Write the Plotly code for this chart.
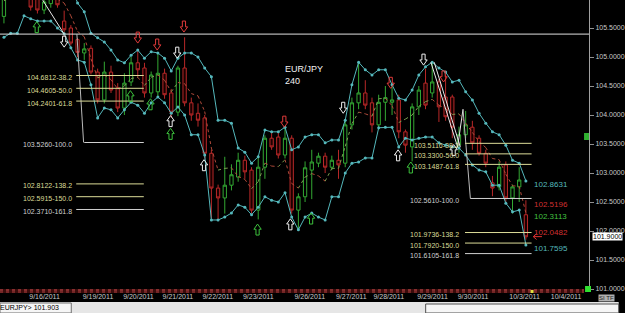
import plotly.graph_objects as go

# ---------------- data ----------------
opens = [105.70, 106.10, 106.30, 106.15, 106.10, 106.00, 105.81, 105.92, 106.05, 105.62,
         105.50, 105.30, 105.07, 105.15, 104.74, 104.26, 104.74, 104.47, 104.12, 104.57,
         104.90, 104.81, 104.38, 104.40, 104.72, 104.38, 104.05, 104.81, 104.21, 104.03,
         103.95, 103.34, 102.74, 102.57, 102.79, 102.93, 103.22, 103.05, 102.36, 103.10,
         103.60, 103.62, 103.31, 103.60, 102.36, 102.59, 103.05, 103.17, 103.29, 103.10,
         103.22, 103.17, 103.83, 104.21, 104.38, 104.21, 103.83, 104.22, 104.22, 104.26,
         103.71, 103.45, 104.14, 104.55, 104.38, 104.57, 104.31, 104.31, 103.48, 103.66,
         103.79, 103.60, 103.34, 102.83, 102.76, 103.14, 102.57, 102.76, 102.28]
highs = [106.30, 106.45, 106.40, 106.35, 106.22, 106.08, 106.05, 106.10, 106.12, 105.80,
         105.55, 105.33, 105.24, 105.20, 104.80, 104.92, 104.85, 104.55, 104.72, 105.00,
         105.12, 104.90, 104.75, 105.07, 104.80, 104.45, 104.85, 105.34, 104.30, 104.20,
         104.00, 103.40, 102.80, 103.28, 103.15, 103.35, 103.30, 103.10, 103.30, 103.65,
         103.70, 103.70, 103.80, 103.65, 102.65, 103.20, 103.40, 103.35, 103.35, 103.30,
         103.40, 103.90, 104.30, 104.90, 104.60, 104.30, 104.35, 104.50, 104.55, 104.35,
         103.75, 104.20, 104.50, 104.80, 104.93, 104.62, 104.70, 104.35, 103.80, 104.07,
         103.90, 103.65, 103.40, 102.95, 103.20, 103.20, 102.80, 103.10, 102.53]
lows = [105.58, 106.02, 106.05, 106.00, 105.80, 105.75, 105.74, 105.85, 105.85, 105.35,
        105.20, 105.00, 104.95, 104.70, 104.20, 104.20, 104.38, 104.05, 104.00, 104.50,
        104.65, 104.30, 104.30, 104.30, 104.28, 103.95, 103.98, 104.15, 103.90, 103.80,
        103.25, 102.22, 102.20, 102.30, 102.70, 102.85, 102.90, 102.30, 102.20, 102.90,
        103.40, 103.25, 103.25, 102.30, 102.03, 102.50, 102.55, 103.10, 103.00, 103.05,
        102.90, 103.10, 103.75, 104.10, 104.10, 103.70, 103.75, 103.90, 104.00, 103.60,
        103.35, 103.20, 104.00, 104.10, 104.30, 103.88, 103.90, 103.60, 103.35, 103.60,
        103.40, 103.30, 103.10, 102.60, 102.70, 102.50, 102.30, 102.50, 101.85]
closes = [106.10, 106.30, 106.15, 106.20, 105.86, 105.81, 105.95, 106.05, 105.90, 105.47,
          105.24, 105.08, 105.14, 104.74, 104.26, 104.74, 104.43, 104.12, 104.55, 104.90,
          104.78, 104.38, 104.69, 104.72, 104.35, 104.05, 104.81, 104.21, 104.00, 103.91,
          103.34, 102.74, 102.57, 102.79, 102.97, 103.22, 103.02, 102.36, 103.10, 103.60,
          103.45, 103.31, 103.60, 102.36, 102.59, 103.09, 103.19, 103.29, 103.10, 103.22,
          103.14, 103.83, 104.21, 104.38, 104.17, 103.83, 104.22, 104.30, 104.26, 103.71,
          103.48, 104.14, 104.43, 104.17, 104.57, 104.14, 103.97, 103.79, 103.66, 103.83,
          103.52, 103.34, 103.17, 102.74, 103.10, 102.57, 102.76, 102.88, 101.90]

upper_band = [106.60, 106.65, 106.65, 106.62, 106.60, 106.58, 106.55, 106.55, 106.50, 106.45,
              106.25, 105.93, 105.78, 105.41, 105.33, 105.26, 105.12, 104.95, 104.90, 105.03,
              105.12, 104.98, 105.09, 105.07, 104.98, 104.76, 104.98, 105.07, 105.07, 105.00,
              104.81, 104.66, 103.91, 103.91, 103.86, 103.43, 103.36, 103.17, 103.28, 103.74,
              103.71, 103.71, 103.79, 103.40, 103.45, 103.62, 103.66, 103.66, 103.52, 103.57,
              103.57, 103.91, 104.52, 104.91, 104.78, 104.69, 104.78, 104.78, 104.52, 104.29,
              104.26, 104.43, 104.69, 104.83, 104.91, 104.81, 104.74, 104.57, 104.60, 104.40,
              104.26, 104.03, 103.86, 103.71, 103.66, 103.48, 103.22, 103.17, 102.8631]
lower_band = [105.34, 105.41, 105.41, 105.71, 105.66, 105.62, 105.62, 105.62, 105.50, 105.40,
              105.16, 104.95, 104.91, 104.52, 103.95, 104.12, 104.09, 103.95, 104.09, 104.22,
              104.17, 104.03, 104.21, 104.31, 104.21, 104.03, 104.14, 104.00, 103.66, 103.66,
              103.31, 102.19, 102.19, 102.24, 102.31, 102.45, 102.41, 102.28, 102.41, 102.59,
              102.53, 102.50, 102.66, 102.24, 102.02, 102.24, 102.31, 102.24, 102.19, 102.59,
              102.59, 103.00, 103.17, 103.19, 103.26, 103.26, 103.78, 103.79, 103.79, 103.45,
              103.60, 103.57, 103.60, 103.62, 103.62, 103.52, 103.48, 103.45, 103.43, 103.31,
              103.14, 103.05, 103.02, 102.79, 102.79, 102.48, 102.33, 102.36, 101.7595]
middle_band = [105.97, 106.03, 106.03, 106.17, 106.13, 106.10, 106.09, 106.09, 106.00, 105.93,
               105.71, 105.44, 105.35, 104.97, 104.64, 104.69, 104.61, 104.45, 104.50, 104.63,
               104.65, 104.51, 104.65, 104.69, 104.60, 104.40, 104.56, 104.54, 104.37, 104.33,
               104.06, 103.43, 103.05, 103.08, 103.09, 102.94, 102.89, 102.73, 102.85, 103.17,
               103.12, 103.11, 103.23, 102.82, 102.74, 102.93, 102.99, 102.95, 102.86, 103.08,
               103.08, 103.46, 103.85, 104.05, 104.02, 103.98, 104.28, 104.29, 104.16, 103.87,
               103.93, 104.00, 104.15, 104.23, 104.27, 104.17, 104.11, 104.01, 104.02, 103.86,
               103.70, 103.54, 103.44, 103.25, 103.23, 102.98, 102.78, 102.77, 102.3113]

date_labels = ["9/16/2011", "9/19/2011", "9/20/2011", "9/21/2011", "9/22/2011", "9/23/2011",
               "9/26/2011", "9/27/2011", "9/28/2011", "9/29/2011", "9/30/2011", "10/3/2011",
               "10/4/2011"]
date_bar_pos = [6.07, 14.05, 20.1, 26.0, 31.95, 38.0, 45.7, 51.9, 57.5, 64.05, 70.1, 77.8, 84.0]

price_ticks = [101.0, 101.5, 102.0, 102.5, 103.0, 103.5, 104.0, 104.5, 105.0, 105.5, 106.0]

fib_levels = ["38.2", "50.0", "61.8", "100.0", "138.2", "150.0", "161.8"]
fib_left_prices = [104.6812, 104.4605, 104.2401, 103.5260, 102.8122, 102.5915, 102.3710]
fib_right_prices = [103.5116, 103.3300, 103.1487, 102.5610, 101.9736, 101.7920, 101.6105]
swing_high_left = 105.395
swing_high_right = 104.099

end_label_values = [102.8631, 102.5196, 102.3113, 102.0482, 101.7595]
end_label_kinds = ["band", "red", "mid", "red", "band"]

signal_bar = [4.9, 9.0, 20.0, 22.9, 26.9, 25.9, 18.9, 21.9, 24.9, 24.9, 41.9, 29.9,
              37.9, 42.8, 45.9, 50.7, 57.8, 58.9, 60.8, 62.7, 65.7, 67.2]
signal_price = [105.52, 105.26, 105.33, 105.21, 105.52, 105.07, 104.33, 104.19, 103.90,
                103.68, 103.88, 103.14, 102.03, 102.12, 102.22, 104.12, 104.55, 103.31,
                103.10, 104.95, 104.66, 103.40]
signal_dir = ["up", "down", "down", "down", "down", "down", "up", "up", "up", "up", "down",
              "up", "up", "up", "up", "down", "down", "up", "up", "down", "down", "up"]
signal_kind = ["green", "white", "red", "red", "red", "white", "green", "green", "white",
               "green", "red", "white", "green", "white", "green", "white", "red", "white",
               "green", "white", "red", "white"]

last_price = 101.903
symbol = "EUR/JPY"
timeframe = "240"

# ---------------- styling ----------------
TEAL = "#55b8bc"
GREEN = "#33a833"
RED = "#b82828"
FIB_Y = "#dcdc98"
FIB_W = "#d0d0d0"
AX = "#c8c8c8"
FONT = "Liberation Sans"

xs = list(range(len(opens)))
fig = go.Figure()

fig.add_trace(go.Candlestick(
    x=xs, open=opens, high=highs, low=lows, close=closes,
    increasing=dict(line=dict(color=GREEN, width=1), fillcolor="#000000"),
    decreasing=dict(line=dict(color=RED, width=1), fillcolor="#1a0000"),
    whiskerwidth=0, showlegend=False, hoverinfo="skip"))

# middle band as dotted, coloured by direction
rx, ry, fx, fy = [], [], [], []
for i in range(len(middle_band) - 1):
    if middle_band[i + 1] >= middle_band[i]:
        rx += [xs[i], xs[i + 1], None]; ry += [middle_band[i], middle_band[i + 1], None]
    else:
        fx += [xs[i], xs[i + 1], None]; fy += [middle_band[i], middle_band[i + 1], None]
fig.add_trace(go.Scatter(x=rx, y=ry, mode="lines", line=dict(color="#7aa050", width=1, dash="dot"),
                         showlegend=False, hoverinfo="skip"))
fig.add_trace(go.Scatter(x=fx, y=fy, mode="lines", line=dict(color="#b04a3a", width=1, dash="dot"),
                         showlegend=False, hoverinfo="skip"))

for band in (upper_band, lower_band):
    fig.add_trace(go.Scatter(x=xs, y=band, mode="lines+markers",
                             line=dict(color=TEAL, width=1),
                             marker=dict(color=TEAL, size=3),
                             showlegend=False, hoverinfo="skip"))

shapes = []
ann = []

# horizontal swing-high line across chart
shapes.append(dict(type="line", xref="paper", x0=0, x1=1, yref="y",
                   y0=swing_high_left, y1=swing_high_left, line=dict(color="#e0e0e0", width=1)))

# zigzag / fib anchor lines
shapes.append(dict(type="line", x0=5.8, y0=105.98, x1=9.0, y1=swing_high_left,
                   line=dict(color="#e8e8e8", width=1)))
shapes.append(dict(type="line", x0=10.9, y0=swing_high_left, x1=11.9, y1=fib_left_prices[3],
                   line=dict(color="#bbbbbb", width=1)))
shapes.append(dict(type="line", x0=63.8, y0=104.91, x1=67.8, y1=103.45,
                   line=dict(color="#e8e8e8", width=1)))
shapes.append(dict(type="line", x0=64.3, y0=104.91, x1=68.2, y1=103.45,
                   line=dict(color="#e8e8e8", width=1)))
shapes.append(dict(type="line", x0=67.8, y0=103.45, x1=68.6, y1=swing_high_right,
                   line=dict(color="#e8e8e8", width=1)))
shapes.append(dict(type="line", x0=68.6, y0=swing_high_right, x1=69.7, y1=fib_right_prices[3],
                   line=dict(color="#bbbbbb", width=1)))


def fib_color(lv):
    return FIB_W if lv in ("100.0", "161.8") else FIB_Y


for prices, x_lab, x_start_main, x_start_100, x_end in (
        (fib_left_prices, 10.4, 10.8, 12.0, 20.9),
        (fib_right_prices, 68.3, 68.9, 69.7, 78.85)):
    for p, lv in zip(prices, fib_levels):
        x0 = x_start_100 if lv == "100.0" else x_start_main
        shapes.append(dict(type="line", x0=x0, x1=x_end, y0=p, y1=p,
                           line=dict(color=fib_color(lv), width=1)))
        ann.append(dict(x=x_lab, y=p, text=f"{p:.4f}-{lv}", showarrow=False,
                        xanchor="right", yanchor="middle", yshift=-2,
                        font=dict(size=7, color=fib_color(lv), family=FONT)))

# end-of-chart value labels
kind_col = {"band": TEAL, "red": "#d03030", "mid": "#40c040"}
for v, k in zip(end_label_values, end_label_kinds):
    ann.append(dict(x=78.85, y=v, text=f"{v:.4f}", showarrow=False, xanchor="left",
                    yanchor="middle", yshift=-4, font=dict(size=8, color=kind_col[k], family=FONT)))

# small red pointer at the last price (drawn as lines)
shapes.append(dict(type="line", x0=79.1, x1=80.4, y0=last_price, y1=last_price,
                   line=dict(color="#e03030", width=1)))
shapes.append(dict(type="line", x0=79.1, x1=79.6, y0=last_price, y1=last_price + 0.05,
                   line=dict(color="#e03030", width=1)))
shapes.append(dict(type="line", x0=79.1, x1=79.6, y0=last_price, y1=last_price - 0.05,
                   line=dict(color="#e03030", width=1)))

# signal arrows as hollow block-arrow paths (bar units / price units)
sig_col = {"green": "#3cc03c", "red": "#e03a3a", "white": "#f0f0f0"}
SW, HW, SH, HH = 0.24, 0.55, 0.10, 0.09
for b, p, d, k in zip(signal_bar, signal_price, signal_dir, signal_kind):
    s = 1 if d == "down" else -1
    top = p + s * SH
    tip = p - s * HH
    path = (f"M {b - SW},{top} L {b + SW},{top} L {b + SW},{p} L {b + HW},{p} "
            f"L {b},{tip} L {b - HW},{p} L {b - SW},{p} Z")
    shapes.append(dict(type="path", path=path, line=dict(color=sig_col[k], width=1),
                       fillcolor="rgba(0,0,0,0)"))

# symbol text
ann.append(dict(x=41.7, y=104.91, text=f"{symbol}<br>{timeframe}", showarrow=False, align="left",
                xanchor="left", yanchor="top", font=dict(size=9, color="#f0f0f0", family=FONT)))

# price box on axis
ann.append(dict(xref="paper", x=1 + 3 / 595, y=101.9, text="101.9000", showarrow=False,
                xanchor="left", yanchor="middle", bgcolor="#ffffff", borderpad=0,
                font=dict(size=7, color="#000000", family=FONT)))

# bottom separator band (red dotted)
H = 289.0
W = 595.0
shapes.append(dict(type="rect", xref="paper", yref="paper", x0=0, x1=590 / W,
                   y0=-4 / H, y1=0, fillcolor="#3a0c0c", line=dict(width=0), layer="below"))
shapes.append(dict(type="line", xref="paper", yref="paper", x0=0, x1=590 / W,
                   y0=-1 / H, y1=-1 / H, line=dict(color="#d05050", width=1, dash="dot")))
shapes.append(dict(type="line", xref="paper", yref="paper", x0=0, x1=590 / W,
                   y0=-3 / H, y1=-3 / H, line=dict(color="#b04040", width=1, dash="dot")))
shapes.append(dict(type="rect", xref="paper", yref="paper", x0=591 / W, x1=597 / W,
                   y0=-3 / H, y1=3 / H, fillcolor="#30e030", line=dict(width=0)))
shapes.append(dict(type="rect", xref="paper", yref="paper", x0=590 / W, x1=595 / W,
                   y0=(H - 140) / H, y1=(H - 133) / H, fillcolor="#30b030", line=dict(width=0)))
shapes.append(dict(type="rect", xref="paper", yref="paper", x0=536 / W, x1=539 / W,
                   y0=-4 / H, y1=-1 / H, fillcolor="#e0e040", line=dict(width=0)))

# status bar
shapes.append(dict(type="rect", xref="paper", yref="paper", x0=0, x1=625 / W,
                   y0=-(313 - H) / H, y1=-(302 - H) / H, fillcolor="#e6e6e6",
                   line=dict(width=0)))
shapes.append(dict(type="rect", xref="paper", yref="paper", x0=0, x1=72 / W,
                   y0=-(313 - H) / H, y1=-(303 - H) / H, fillcolor="#f6f6f6",
                   line=dict(color="#707070", width=1)))
shapes.append(dict(type="rect", xref="paper", yref="paper", x0=430 / W, x1=625 / W,
                   y0=-(313 - H) / H, y1=-(304 - H) / H, fillcolor="#f6f6f6",
                   line=dict(color="#505050", width=1)))
ann.append(dict(xref="paper", yref="paper", x=0, y=-(308 - H) / H, text=f"EURJPY> {last_price:.3f}",
                showarrow=False, xanchor="left", yanchor="middle", xshift=-2,
                font=dict(size=7, color="#000000", family=FONT)))
ann.append(dict(xref="paper", yref="paper", x=604 / W, y=-(298 - H) / H, text="SI TF",
                showarrow=False, xanchor="left", yanchor="middle", bgcolor="#b0b0b0",
                borderpad=0, font=dict(size=6, color="#202020", family=FONT)))

fig.update_layout(
    width=625, height=313,
    margin=dict(l=0, r=30, t=0, b=24),
    paper_bgcolor="#000000", plot_bgcolor="#000000",
    shapes=shapes, annotations=ann, showlegend=False,
    xaxis=dict(range=[-0.59, 87.43], rangeslider=dict(visible=False),
               tickvals=date_bar_pos, ticktext=date_labels, showgrid=False, zeroline=False,
               ticks="", tickfont=dict(size=7, color=AX, family=FONT), showline=False,
               ticklabelstandoff=2),
    yaxis=dict(side="right", range=[101.0, 105.983], tickvals=price_ticks,
               ticktext=[f"{v:.4f}" for v in price_ticks], showgrid=False, zeroline=False,
               ticks="outside", ticklen=4, tickcolor="#909090", showline=True,
               linecolor="#a0a0a0", linewidth=1,
               tickfont=dict(size=7, color=AX, family=FONT)),
)

fig.write_html("out.html")
